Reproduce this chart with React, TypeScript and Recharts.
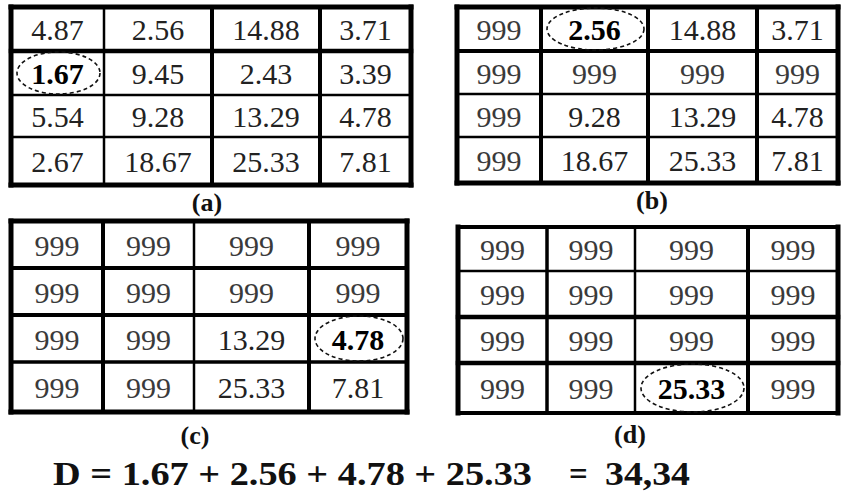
import React from "react";
import { ScatterChart, Scatter, XAxis, YAxis, ReferenceLine } from "recharts";

// cost matrices at each step (999 = row/column already used)
const MATRIX_A = [
  [4.87, 2.56, 14.88, 3.71],
  [1.67, 9.45, 2.43, 3.39],
  [5.54, 9.28, 13.29, 4.78],
  [2.67, 18.67, 25.33, 7.81],
];
const MATRIX_B = [
  [999, 2.56, 14.88, 3.71],
  [999, 999, 999, 999],
  [999, 9.28, 13.29, 4.78],
  [999, 18.67, 25.33, 7.81],
];
const MATRIX_C = [
  [999, 999, 999, 999],
  [999, 999, 999, 999],
  [999, 999, 13.29, 4.78],
  [999, 999, 25.33, 7.81],
];
const MATRIX_D = [
  [999, 999, 999, 999],
  [999, 999, 999, 999],
  [999, 999, 999, 999],
  [999, 999, 25.33, 999],
];

// [row, col] of the minimum circled in each step
const PICKS = [
  [1, 0],
  [0, 1],
  [2, 3],
  [3, 2],
];
const CAPTIONS = ["(a)", "(b)", "(c)", "(d)"];
const PICKED_VALUES = [1.67, 2.56, 4.78, 25.33];
const TOTAL_LABEL = "34,34";

// layout of each table on the page (px)
const PAD = 4;
const FONT = "Liberation Serif, DejaVu Serif, serif";

type Frame = {
  left: number;
  top: number;
  cols: number[];
  rows: number[];
  colLines: number[];
  rowLines: number[];
  captionX: number;
  captionY: number;
};

const FRAMES: Frame[] = [
  {
    left: 11,
    top: 7,
    cols: [0, 93, 201, 309, 400],
    rows: [0, 44, 88, 130, 178],
    colLines: [5, 2.5, 4, 4, 5],
    rowLines: [5, 4.5, 2.5, 2.5, 5],
    captionX: 207,
    captionY: 211,
  },
  {
    left: 457,
    top: 7,
    cols: [0, 84, 191, 300, 381],
    rows: [0, 44, 87, 130, 176],
    colLines: [5, 4, 4, 4, 5],
    rowLines: [5, 4, 2.5, 2.5, 5],
    captionX: 652,
    captionY: 209,
  },
  {
    left: 11,
    top: 221,
    cols: [0, 92, 183, 298, 396],
    rows: [0, 47, 94, 141, 191],
    colLines: [5, 4, 2.5, 4, 5],
    rowLines: [5, 4, 4, 3.5, 5],
    captionX: 195,
    captionY: 444,
  },
  {
    left: 458,
    top: 227,
    cols: [0, 89, 177, 290, 380],
    rows: [0, 44, 90, 136, 186],
    colLines: [5, 3.5, 2.5, 4, 5],
    rowLines: [4, 2.5, 4.5, 4.5, 4],
    captionX: 630,
    captionY: 443,
  },
];

const MATRICES = [MATRIX_A, MATRIX_B, MATRIX_C, MATRIX_D];

const fmt = (v: number) => (v === 999 ? "999" : v.toFixed(2));

function CellMark(props: any) {
  const { cx, cy, payload } = props;
  if (cx == null || cy == null || !payload) return null;
  const { w, h, value, picked } = payload;
  return (
    <g>
      {picked && (
        <ellipse
          cx={cx + 1}
          cy={cy}
          rx={w / 2 - 5}
          ry={h / 2 - 1}
          fill="none"
          stroke="#111"
          strokeWidth={1.6}
          strokeDasharray="4 3"
        />
      )}
      <text
        x={cx}
        y={cy + 11}
        textAnchor="middle"
        style={{ fontFamily: FONT }}
        fontSize={30}
        fontWeight={picked ? 700 : 400}
        fill={picked ? "#000" : value === 999 ? "#3a3a3a" : "#222"}
      >
        {fmt(value)}
      </text>
    </g>
  );
}

function MatrixPanel({ index }: { index: number }) {
  const frame = FRAMES[index];
  const matrix = MATRICES[index];
  const [pr, pc] = PICKS[index];
  const W = frame.cols[frame.cols.length - 1];
  const H = frame.rows[frame.rows.length - 1];

  const cells = matrix.flatMap((row, r) =>
    row.map((value, c) => ({
      x: (frame.cols[c] + frame.cols[c + 1]) / 2,
      y: (frame.rows[r] + frame.rows[r + 1]) / 2,
      w: frame.cols[c + 1] - frame.cols[c],
      h: frame.rows[r + 1] - frame.rows[r],
      value,
      picked: r === pr && c === pc,
    }))
  );

  return (
    <div
      style={{
        position: "absolute",
        left: frame.left - PAD,
        top: frame.top - PAD,
      }}
    >
      <ScatterChart
        width={W + PAD * 2}
        height={H + PAD * 2}
        margin={{ top: PAD, right: PAD, bottom: PAD, left: PAD }}
      >
        <XAxis
          type="number"
          dataKey="x"
          domain={[0, W]}
          scale="linear"
          allowDataOverflow
          hide
        />
        <YAxis
          type="number"
          dataKey="y"
          domain={[0, H]}
          scale="linear"
          allowDataOverflow
          reversed
          hide
        />
        {frame.cols.map((edge, i) => (
          <ReferenceLine
            key={`c${i}`}
            x={edge}
            stroke="#000"
            strokeWidth={frame.colLines[i]}
            strokeLinecap="square"
          />
        ))}
        {frame.rows.map((edge, i) => (
          <ReferenceLine
            key={`r${i}`}
            y={edge}
            stroke="#000"
            strokeWidth={frame.rowLines[i]}
            strokeLinecap="square"
          />
        ))}
        <Scatter
          data={cells}
          isAnimationActive={false}
          shape={(p: any) => <CellMark {...p} />}
        />
      </ScatterChart>
    </div>
  );
}

export default function App() {
  const sumText = `D = ${PICKED_VALUES.map((v) => v.toFixed(2)).join(" + ")}`;
  const eqStyle = { fontFamily: FONT };
  return (
    <div
      style={{
        position: "absolute",
        left: 0,
        top: 0,
        width: 841,
        height: 493,
        background: "#fff",
        overflow: "hidden",
      }}
    >
      <svg
        width={841}
        height={493}
        style={{ position: "absolute", left: 0, top: 0 }}
      >
        {FRAMES.map((f, i) => (
          <text
            key={i}
            x={f.captionX}
            y={f.captionY}
            textAnchor="middle"
            style={eqStyle}
            fontSize={26}
            fontWeight={700}
            fill="#111"
          >
            {CAPTIONS[i]}
          </text>
        ))}
        <text
          x={53}
          y={485}
          style={eqStyle}
          fontSize={33}
          fontWeight={700}
          fill="#111"
          textLength={479}
          lengthAdjust="spacingAndGlyphs"
        >
          {sumText}
        </text>
        <text x={569} y={485} style={eqStyle} fontSize={33} fontWeight={700} fill="#111">
          =
        </text>
        <text
          x={605}
          y={485}
          style={eqStyle}
          fontSize={33}
          fontWeight={700}
          fill="#111"
          textLength={85}
          lengthAdjust="spacingAndGlyphs"
        >
          {TOTAL_LABEL}
        </text>
      </svg>
      {FRAMES.map((_, i) => (
        <MatrixPanel key={i} index={i} />
      ))}
    </div>
  );
}
